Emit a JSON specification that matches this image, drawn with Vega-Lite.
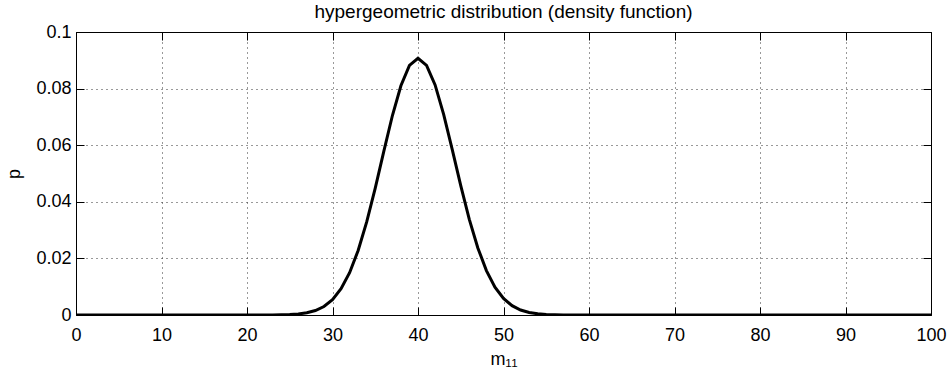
{
  "$schema": "https://vega.github.io/schema/vega-lite/v6.json",
  "width": 855,
  "height": 283,
  "autosize": "none",
  "padding": {"left": 76, "top": 32, "right": 18, "bottom": 63},
  "background": "white",
  "title": {"text": "hypergeometric distribution (density function)", "fontSize": 19, "font": "Liberation Sans", "fontWeight": "normal", "color": "#000", "offset": 1, "anchor": "middle"},
  "config": {
    "view": {"stroke": null},
    "font": "Liberation Sans",
    "axis": {"domainColor": "#000", "domainWidth": 1, "tickColor": "#000", "tickSize": -8, "tickWidth": 1, "labelColor": "#000", "labelFont": "Liberation Sans", "labelFontSize": 18, "titleFont": "Liberation Sans", "titleFontSize": 18, "titleFontWeight": "normal", "titleColor": "#000", "gridColor": "#333", "gridDash": [1, 4], "gridWidth": 1}
  },
  "data": {"values": [
    {"m": 0, "p": 0}, {"m": 1, "p": 0}, {"m": 2, "p": 0}, {"m": 3, "p": 0}, {"m": 4, "p": 0},
    {"m": 5, "p": 0}, {"m": 6, "p": 0}, {"m": 7, "p": 0}, {"m": 8, "p": 0}, {"m": 9, "p": 0},
    {"m": 10, "p": 0}, {"m": 11, "p": 0}, {"m": 12, "p": 0}, {"m": 13, "p": 0}, {"m": 14, "p": 0},
    {"m": 15, "p": 0}, {"m": 16, "p": 0}, {"m": 17, "p": 0}, {"m": 18, "p": 0}, {"m": 19, "p": 0},
    {"m": 20, "p": 0.0000012}, {"m": 21, "p": 0.0000035}, {"m": 22, "p": 0.0000099}, {"m": 23, "p": 0.0000264},
    {"m": 24, "p": 0.0000669}, {"m": 25, "p": 0.00016}, {"m": 26, "p": 0.000363}, {"m": 27, "p": 0.000776},
    {"m": 28, "p": 0.00157}, {"m": 29, "p": 0.003}, {"m": 30, "p": 0.00542}, {"m": 31, "p": 0.00926},
    {"m": 32, "p": 0.01495}, {"m": 33, "p": 0.0228}, {"m": 34, "p": 0.0329}, {"m": 35, "p": 0.0448},
    {"m": 36, "p": 0.0578}, {"m": 37, "p": 0.0704}, {"m": 38, "p": 0.081}, {"m": 39, "p": 0.0882},
    {"m": 40, "p": 0.0907},
    {"m": 41, "p": 0.0882}, {"m": 42, "p": 0.0813}, {"m": 43, "p": 0.0709}, {"m": 44, "p": 0.0585},
    {"m": 45, "p": 0.0457}, {"m": 46, "p": 0.0338}, {"m": 47, "p": 0.0237}, {"m": 48, "p": 0.0157},
    {"m": 49, "p": 0.00986}, {"m": 50, "p": 0.00586}, {"m": 51, "p": 0.0033}, {"m": 52, "p": 0.00175},
    {"m": 53, "p": 0.000884}, {"m": 54, "p": 0.000422}, {"m": 55, "p": 0.000191}, {"m": 56, "p": 0.0000815},
    {"m": 57, "p": 0.000033}, {"m": 58, "p": 0.0000126}, {"m": 59, "p": 0.0000046}, {"m": 60, "p": 0.0000016},
    {"m": 61, "p": 0}, {"m": 62, "p": 0}, {"m": 63, "p": 0}, {"m": 64, "p": 0}, {"m": 65, "p": 0},
    {"m": 66, "p": 0}, {"m": 67, "p": 0}, {"m": 68, "p": 0}, {"m": 69, "p": 0}, {"m": 70, "p": 0},
    {"m": 71, "p": 0}, {"m": 72, "p": 0}, {"m": 73, "p": 0}, {"m": 74, "p": 0}, {"m": 75, "p": 0},
    {"m": 76, "p": 0}, {"m": 77, "p": 0}, {"m": 78, "p": 0}, {"m": 79, "p": 0}, {"m": 80, "p": 0},
    {"m": 81, "p": 0}, {"m": 82, "p": 0}, {"m": 83, "p": 0}, {"m": 84, "p": 0}, {"m": 85, "p": 0},
    {"m": 86, "p": 0}, {"m": 87, "p": 0}, {"m": 88, "p": 0}, {"m": 89, "p": 0}, {"m": 90, "p": 0},
    {"m": 91, "p": 0}, {"m": 92, "p": 0}, {"m": 93, "p": 0}, {"m": 94, "p": 0}, {"m": 95, "p": 0},
    {"m": 96, "p": 0}, {"m": 97, "p": 0}, {"m": 98, "p": 0}, {"m": 99, "p": 0}, {"m": 100, "p": 0}
  ]},
  "layer": [
    {
      "mark": {"type": "line", "color": "#000", "strokeWidth": 3, "clip": true},
      "encoding": {
        "x": {"field": "m", "type": "quantitative", "scale": {"domain": [0, 100], "nice": false, "zero": false},
          "axis": {"orient": "bottom", "title": "m₁₁", "values": [0, 10, 20, 30, 40, 50, 60, 70, 80, 90, 100], "grid": true, "labelPadding": 19, "titlePadding": 6, "labelFlush": false}},
        "y": {"field": "p", "type": "quantitative", "scale": {"domain": [0, 0.1], "nice": false},
          "axis": {"orient": "left", "title": "p", "values": [0, 0.02, 0.04, 0.06, 0.08, 0.1], "format": "~g", "grid": true, "labelPadding": 13, "titlePadding": 12, "labelFlush": false}}
      }
    },
    {
      "mark": {"type": "line", "color": "#000", "strokeWidth": 3, "opacity": 0},
      "encoding": {
        "x": {"field": "m", "type": "quantitative", "axis": {"orient": "top", "title": null, "labels": false, "values": [0, 10, 20, 30, 40, 50, 60, 70, 80, 90, 100], "grid": false}},
        "y": {"field": "p", "type": "quantitative", "axis": {"orient": "right", "title": null, "labels": false, "values": [0, 0.02, 0.04, 0.06, 0.08, 0.1], "grid": false}}
      }
    }
  ],
  "resolve": {"axis": {"x": "independent", "y": "independent"}}
}
